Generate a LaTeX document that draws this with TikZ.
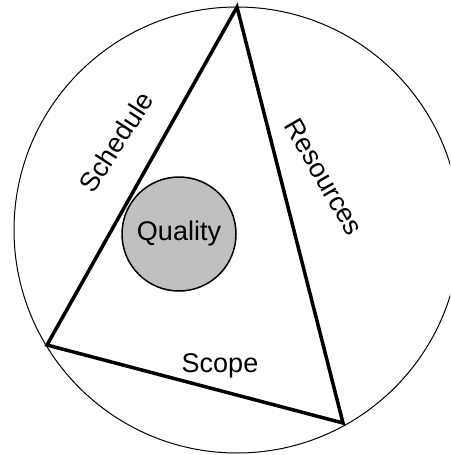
\documentclass[tikz,border=0pt]{standalone}
\usepackage{fontspec}
\setmainfont{Liberation Sans}
\definecolor{qgray}{HTML}{C0C0C0}
\begin{document}
\begin{tikzpicture}[x=1pt,y=-1pt,
  edge/.style={line width=3.5pt,line join=miter},
  lbl/.style={font=\fontsize{27}{30}\selectfont,inner sep=0pt}]
\useasboundingbox (0,0) rectangle (450,455);
\clip (0,0) rectangle (450,455);
\draw[line width=1pt] (237,230) circle[radius=223];
\coordinate (top) at (237,7);
\coordinate (bl) at (47,345);
\coordinate (br) at (343,423);
\draw[edge] (top) -- (bl) -- (br) -- cycle;
\node[circle,draw,line width=1.5pt,fill=qgray,minimum size=114pt,inner sep=0pt] (q) at (179,234) {};
\node[lbl] (ql) at (q) {Quality};
\node[lbl,rotate=57] (sched) at (116,142) {Schedule};
\node[lbl,rotate=-60] (res) at (324,177) {Resources};
\node[lbl] (scope) at (220,366) {Scope};
\end{tikzpicture}
\end{document}
